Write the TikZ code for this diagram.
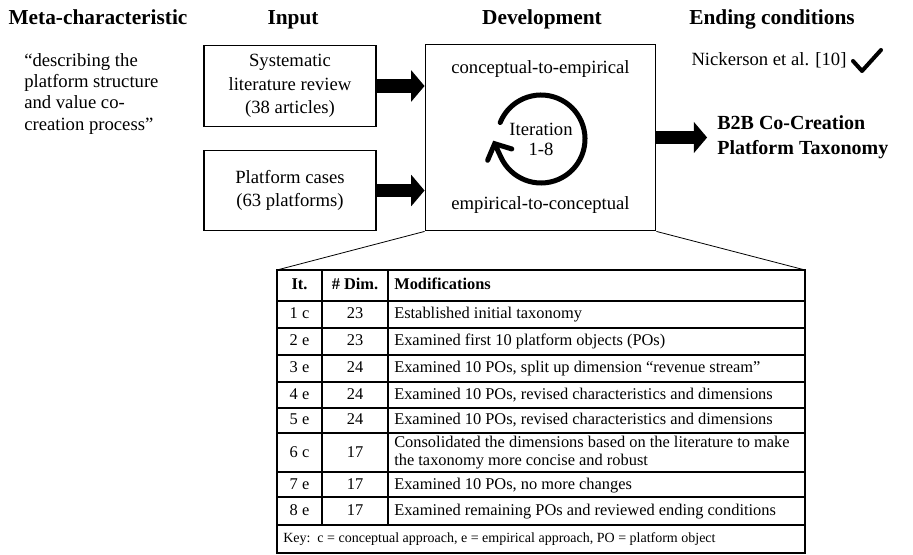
\documentclass[tikz,border=0pt]{standalone}
\usepackage{fontspec}
\setmainfont{Liberation Serif}
\usetikzlibrary{arrows.meta, positioning, calc}

\begin{document}
\begin{tikzpicture}
  [
  x = 0.75pt, y = -0.75pt,
  % judul
  judul/.style = {font=\fontsize{16}{19}\selectfont\bfseries, inner sep=0pt},
  teks/.style = {font=\fontsize{14}{17}\selectfont, inner sep=0pt},
  % kotak input
  block/.style = {rectangle, draw, line width=0.9pt, minimum width=129pt,
    minimum height=61pt, align=center, font=\fontsize{14}{17.5}\selectfont},
  % kotak development
  dev/.style = {rectangle, draw, line width=0.9pt, minimum width=173pt,
    minimum height=140pt},
  % panah
  panah/.style = {draw, line width=10pt, -{Triangle[length=10pt, width=23pt]}},
  putar/.style = {draw, line width=3.75pt, line cap=round,
    -{Straight Barb[length=9pt, width=20pt, line cap=round]}},
  % tabel
  cell/.style = {font=\fontsize{12.3}{14}\selectfont, inner sep=0pt},
  kepala/.style = {cell, font=\fontsize{12.3}{14}\selectfont\bfseries},
  grid/.style = {draw, line width=1pt},
  tipis/.style = {draw, line width=0.6pt},
  ]

  \useasboundingbox (0,0) rectangle (913,555);

  % judul
  \node [judul, anchor=base] (meta) at (98,25) {Meta-characteristic};
  \node [judul, anchor=base] (input) at (293,25) {Input};
  \node [judul, anchor=base] (devhead) at (542,25) {Development};
  \node [judul, anchor=base] (endhead) at (772,25) {Ending conditions};

  \node [teks, anchor=north west, align=left, font=\fontsize{14}{16}\selectfont]
  (quote) at (24,53) {“describing the\\platform structure\\and value co-\\creation process”};

  % input
  \node [block] (slr) at (290,86) {Systematic\\literature review\\(38 articles)};
  \node [block, below=17pt of slr, minimum height=60pt] (cases) {Platform cases\\(63 platforms)};

  % development
  \node [dev] (devbox) at (540.5,137.5) {};
  \node [teks, anchor=base] (c2e) at (540.5,74) {conceptual-to-empirical};
  \node [teks, anchor=base] (e2c) at (540.5,210) {empirical-to-conceptual};
  \node [teks, align=center, font=\fontsize{14}{15}\selectfont] (iter) at (541,139) {Iteration\\1-8};

  % ending conditions
  \node [teks, anchor=base] (nick) at (769,65.5) {Nickerson et al. [10]};
  \node [right=38pt of devbox, align=left, inner xsep=7.5pt, inner ysep=0pt,
  font=\fontsize{15}{18.5}\selectfont\bfseries] (b2b) {B2B Co-Creation\\Platform Taxonomy};

  % panah
  \path [panah] (slr.east) -- (slr.east -| devbox.west);
  \path [panah] (cases.east) -- (cases.east -| devbox.west);
  \path [panah] (devbox.east) -- (b2b.west);

  % putaran iterasi
  \draw [putar] ([shift={(158:33pt)}]iter.center)
  arc [start angle=158, end angle=-155, radius=33pt] -- ++(115:14pt);

  % centang
  \draw [line width=3pt, line cap=round, line join=round] (853,61) -- (862,71) -- (881,50);

  % tabel
  \coordinate (tnw) at (277,270);
  \coordinate (tne) at (805,270);
  \coordinate (tse) at (805,553);
  \path [tipis] (devbox.south west) -- (tnw);
  \path [tipis] (devbox.south east) -- (tne);
  \draw [grid] (tnw) rectangle (tse);
  \draw [grid] (277,301) -- (805,301) (277,328) -- (805,328) (277,355) -- (805,355)
  (277,382) -- (805,382) (277,408) -- (805,408) (277,433) -- (805,433)
  (277,472) -- (805,472) (277,497) -- (805,497) (277,525) -- (805,525);
  \draw [grid] (322,270) -- (322,525) (388,270) -- (388,525);

  % isi tabel
  \node [kepala, anchor=base] (hit) at (299.5,290) {It.};
  \node [kepala, anchor=base] (hdim) at (355,290) {\# Dim.};
  \node [kepala, anchor=base west] (hmod) at (394,290) {Modifications};

  \node [cell, anchor=base] (it1) at (299.5,319) {1 c};
  \node [cell, anchor=base] (dim1) at (355,319) {23};
  \node [cell, anchor=base west] (mod1) at (394,319) {Established initial taxonomy};

  \node [cell, anchor=base] (it2) at (299.5,346) {2 e};
  \node [cell, anchor=base] (dim2) at (355,346) {23};
  \node [cell, anchor=base west] (mod2) at (394,346) {Examined first 10 platform objects (POs)};

  \node [cell, anchor=base] (it3) at (299.5,373) {3 e};
  \node [cell, anchor=base] (dim3) at (355,373) {24};
  \node [cell, anchor=base west] (mod3) at (394,373) {Examined 10 POs, split up dimension “revenue stream”};

  \node [cell, anchor=base] (it4) at (299.5,399.5) {4 e};
  \node [cell, anchor=base] (dim4) at (355,399.5) {24};
  \node [cell, anchor=base west] (mod4) at (394,399.5) {Examined 10 POs, revised characteristics and dimensions};

  \node [cell, anchor=base] (it5) at (299.5,425) {5 e};
  \node [cell, anchor=base] (dim5) at (355,425) {24};
  \node [cell, anchor=base west] (mod5) at (394,425) {Examined 10 POs, revised characteristics and dimensions};

  \node [cell, anchor=base] (it6) at (299.5,457) {6 c};
  \node [cell, anchor=base] (dim6) at (355,457) {17};
  \node [cell, anchor=west, align=left, font=\fontsize{12.3}{13.9}\selectfont] (mod6) at (394,452.5)
  {Consolidated the dimensions based on the literature to make\\the taxonomy more concise and robust};

  \node [cell, anchor=base] (it7) at (299.5,489) {7 e};
  \node [cell, anchor=base] (dim7) at (355,489) {17};
  \node [cell, anchor=base west] (mod7) at (394,489) {Examined 10 POs, no more changes};

  \node [cell, anchor=base] (it8) at (299.5,515.5) {8 e};
  \node [cell, anchor=base] (dim8) at (355,515.5) {17};
  \node [cell, anchor=base west] (mod8) at (394,515.5) {Examined remaining POs and reviewed ending conditions};

  \node [cell, anchor=base west, font=\fontsize{10.5}{12}\selectfont] (key) at (283,542.5)
  {Key:\ \ c = conceptual approach, e = empirical approach, PO = platform object};

\end{tikzpicture}
\end{document}
